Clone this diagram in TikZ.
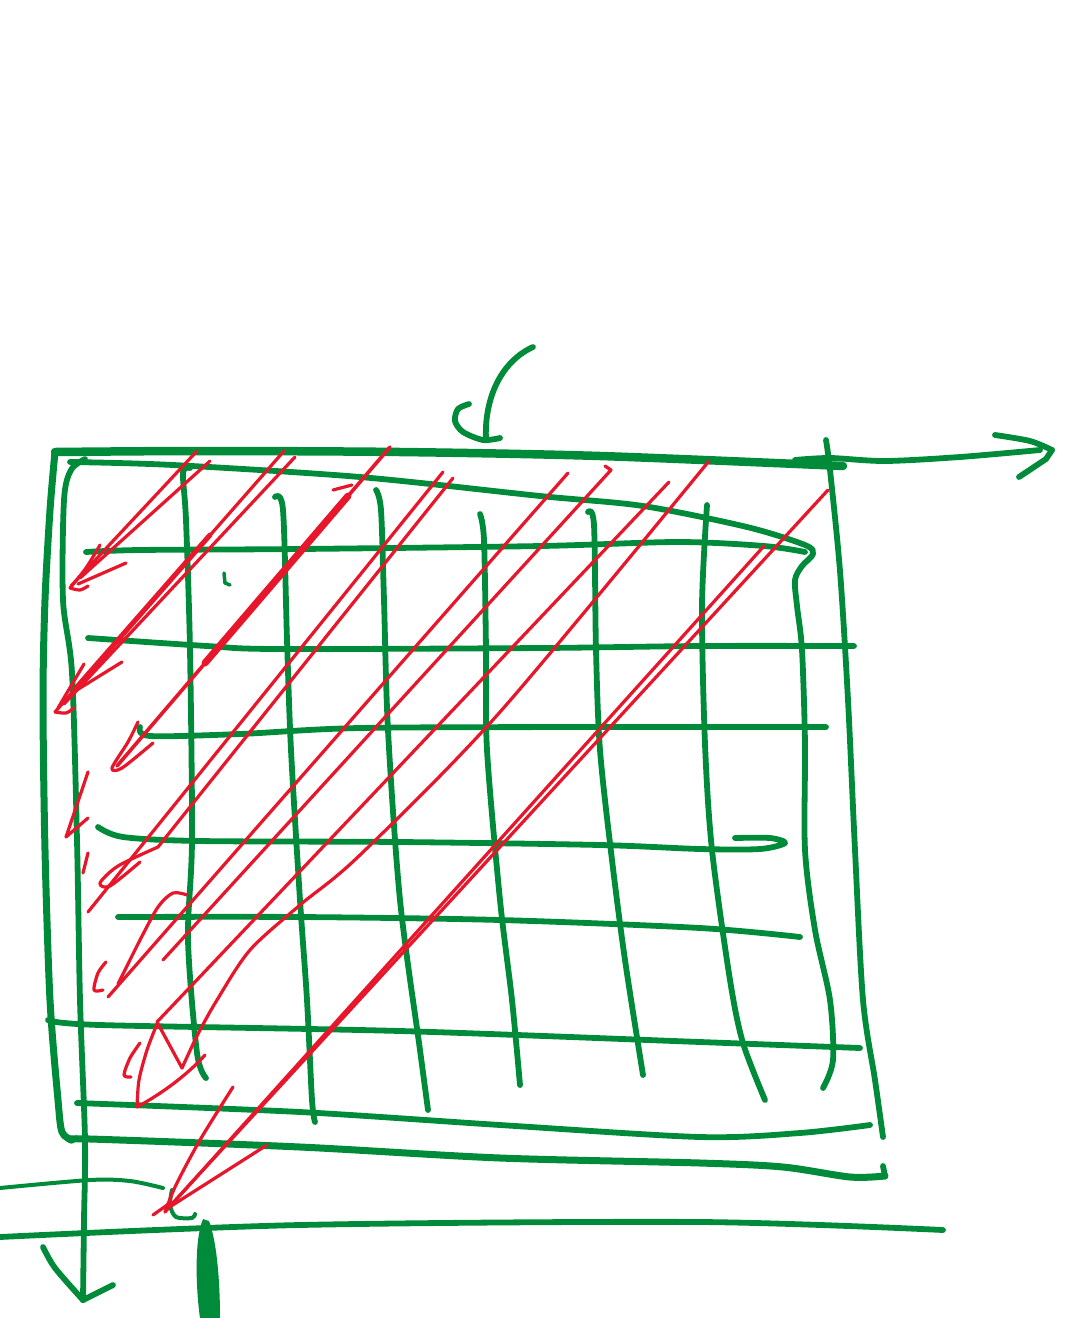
\documentclass[tikz,border=0pt]{standalone}
\definecolor{gr}{RGB}{0,139,58}
\definecolor{rd}{RGB}{232,22,43}
\tikzset{
  gl/.style={draw=gr, line width=5.8pt, line cap=round, line join=round},
  glthick/.style={gl, line width=8.5pt},
  glthin/.style={gl, line width=4pt},
  rl/.style={draw=rd, line width=3.2pt, line cap=round, line join=round},
  rlthick/.style={rl, line width=7pt}
}
\begin{document}
\begin{tikzpicture}[x=1pt,y=-1pt]
\useasboundingbox (0,0) rectangle (1079,1318);
\fill[white] (0,0) rectangle (1079,1318);

% ---------- green: curved arrow at top ----------
\draw[gl] (533,347) .. controls (500,362) and (484,400) .. (486,440);
\draw[gl] plot[smooth] coordinates {(469,404) (458,409) (455,421) (463,432) (483,440) (500,438)};

% ---------- green: frame ----------
\draw[glthick] plot[smooth] coordinates {(55,452) (200,451) (400,452) (600,456) (843,466)};
\draw[gl] plot[smooth] coordinates {(795,460) (830,458) (885,461) (960,457) (1040,450)};
\draw[gl] plot[smooth] coordinates {(995,435) (1030,441) (1052,450)};
\draw[gl] (1052,450) -- (1046,459) -- (1019,477);
\draw[gl] plot[smooth] coordinates {(826,440) (830,470) (840,571) (848,700) (855,850) (863,1000) (875,1080) (883,1137)};
\draw[gl, line width=7pt] plot[smooth] coordinates {(55,452) (50,510) (45,600) (43,700) (45,850) (50,1000) (58,1100) (62,1132) (72,1140)};
\draw[gl, line width=7pt] plot[smooth] coordinates {(72,1140) (90,1139) (300,1147) (500,1158) (700,1163) (783,1167) (850,1177) (885,1176)};
\draw[gl] (885,1176) -- (883,1166);

% inner left line down to the bottom arrow
\draw[gl] plot[smooth] coordinates {(85,459) (71,470) (64,500) (63,600) (72,673) (77,840) (80,1000) (85,1140) (84,1220) (83,1300)};
\draw[gl] plot[smooth] coordinates {(43,1247) (55,1268) (83,1300)};
\draw[gl] (83,1300) -- (113,1285);

% second top line turning into the right inner vertical
\draw[gl] plot[smooth] coordinates {(70,462) (173,465) (360,477) (540,496) (643,506) (747,527) (805,545) (813,554) (802,566) (795,580) (797,606) (802,650) (805,744) (805,850) (815,930) (830,1000) (833,1060) (823,1088)};

% horizontals
\draw[gl] plot[smooth] coordinates {(86,552) (140,550) (300,549) (541,546) (678,542) (764,546) (805,552)};
\draw[gl] plot[smooth] coordinates {(88,638) (207,646) (276,649) (541,648) (700,646) (854,646)};
\draw[gl] plot[smooth] coordinates {(140,727) (150,736) (240,734) (360,728) (600,727) (826,727)};
\draw[gl] plot[smooth] coordinates {(98,827) (123,837) (200,841) (400,842) (600,845) (700,849) (760,849) (785,843) (770,838) (735,838)};
\draw[gl] plot[smooth] coordinates {(118,917) (300,917) (500,920) (700,928) (800,937)};
\draw[gl] plot[smooth] coordinates {(48,1020) (100,1025) (400,1031) (700,1042) (860,1048)};
\draw[gl] plot[smooth] coordinates {(77,1103) (300,1112) (500,1125) (700,1137) (800,1133) (870,1125)};
\draw[glthin] plot[smooth] coordinates {(0,1188) (90,1180) (130,1181) (163,1188)};
\draw[gl] plot[smooth] coordinates {(0,1237) (300,1225) (700,1222) (943,1230)};

% verticals
\draw[gl] plot[smooth] coordinates {(190,468) (183,473) (186,520) (190,650) (192,840) (188,940) (197,1053) (206,1078)};
\draw[gl] plot[smooth] coordinates {(275,497) (283,510) (287,640) (291,750) (300,900) (307,1000) (312,1100) (315,1122)};
\draw[gl] plot[smooth] coordinates {(376,490) (381,510) (384,600) (388,730) (400,900) (420,1050) (428,1110)};
\draw[gl] plot[smooth] coordinates {(480,514) (484,540) (486,650) (487,750) (500,900) (512,1000) (520,1085)};
\draw[gl] plot[smooth] coordinates {(588,512) (594,525) (596,650) (600,750) (612,860) (625,960) (643,1075)};
\draw[gl] plot[smooth] coordinates {(707,505) (702,606) (705,744) (712,850) (730,980) (743,1043) (765,1100)};

% small marks
\draw[gl, line width=3.5pt] (224,573) -- (225,583) -- (230,585);
\draw[gl, line width=4pt] plot[smooth] coordinates {(172,1190) (170,1205) (176,1217) (192,1218) (195,1214)};
\fill[gr] (203,1219) .. controls (194,1240) and (196,1290) .. (200,1318)
  -- (220,1318) .. controls (220,1290) and (218,1245) .. (209,1221) -- cycle;

% ---------- red arrows ----------
% arrow 1
\draw[rl] (197,451) -- (71,586);
\draw[rl] (210,461) -- (80,578);
\draw[rl] plot[smooth] coordinates {(100,545) (86,568) (70,588)};
\draw[rl] (126,563) -- (78,584);
\draw[rl] plot[smooth] coordinates {(70,588) (80,590) (88,586)};

% arrow 2
\draw[rl] (284,451) -- (55,712);
\draw[rl] (295,457) -- (64,704);
\draw[rl, line width=5pt] (210,535) -- (75,689);
\draw[rl] (84,664) -- (58,708);
\draw[rl] (122,662) -- (72,693);
\draw[rl] plot[smooth] coordinates {(55,712) (66,713) (74,708)};

% arrow E (thick)
\draw[rl, line width=3.6pt] (390,447) -- (117,766);
\draw[rlthick] (348,496) -- (205,663);
\draw[rl] (333,490) -- (352,485);
\draw[rl] plot[smooth] coordinates {(138,722) (128,742) (112,768) (122,768) (153,743)};

% small red marks
\draw[rl] (88,772) -- (66,837) -- (88,818);
\draw[rl] (88,853) -- (83,873);

% arrow F/G
\draw[rl] (443,472) -- (88,912);
\draw[rl] (453,478) -- (158,847);
\draw[rl] plot[smooth] coordinates {(158,847) (118,866) (100,883) (110,886) (140,862)};

% arrow H/I
\draw[rl] (568,473) -- (108,997);
\draw[rl] (605,466) -- (611,470) -- (163,960);
\draw[rl] plot[smooth] coordinates {(187,895) (173,893) (158,907) (140,940) (125,970) (118,984)};
\draw[rl] plot[smooth] coordinates {(106,962) (98,973) (94,990) (103,990)};

% big arrow J/K
\draw[rl] (669,482) -- (157,1022) -- (182,1068);
\draw[rl] plot[smooth] coordinates {(182,1068) (198,1034) (217,1000) (250,950) (300,905) (360,855) (500,712) (709,461)};
\draw[rl] plot[smooth] coordinates {(157,1024) (147,1050) (139,1080) (137,1107)};
\draw[rl] (137,1107) .. controls (165,1092) and (190,1072) .. (205,1055);
\draw[rl] plot[smooth] coordinates {(140,1043) (130,1058) (124,1075) (131,1077)};

% bottom arrow L/M
\draw[rl] (764,546) -- (165,1212);
\draw[rl] (828,490) -- (170,1206);
\draw[rl] (267,1145) -- (168,1208);
\draw[rl] plot[smooth] coordinates {(233,1087) (200,1140) (176,1185) (165,1212)};
\draw[rl] (153,1215) -- (170,1203);
\end{tikzpicture}
\end{document}
